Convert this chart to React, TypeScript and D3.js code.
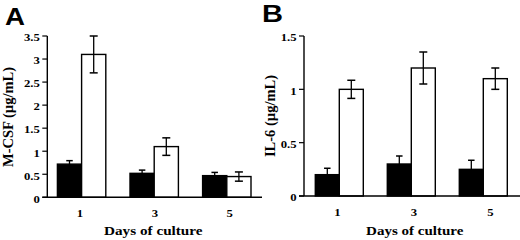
import React from "react";
import * as d3 from "d3";

// ---- data ----
const days = ["1", "3", "5"];
const series = ["control", "treated"];

// Panel A: M-CSF (µg/mL)
const mcsfControl = [0.72, 0.52, 0.47];
const mcsfControlErr = [0.075, 0.07, 0.07];
const mcsfTreated = [3.1, 1.1, 0.45];
const mcsfTreatedErr = [0.4, 0.19, 0.1];
const mcsfTicks = [0, 0.5, 1, 1.5, 2, 2.5, 3, 3.5];

// Panel B: IL-6 (µg/mL)
const il6Control = [0.2, 0.3, 0.25];
const il6ControlErr = [0.06, 0.075, 0.085];
const il6Treated = [1.0, 1.2, 1.1];
const il6TreatedErr = [0.085, 0.15, 0.1];
const il6Ticks = [0, 0.5, 1, 1.5];

const xTitle = "Days of culture";

type PanelProps = {
  letter: string;
  letterX: number;
  letterY: number;
  letterLen: number;
  yTitle: string;
  yTitleX: number;
  yTitleY: number;
  axisX: number;
  axisRight: number;
  yMax: number;
  yTop: number;
  yBottom: number;
  ticks: number[];
  bandRange: [number, number];
  labelRange: [number, number];
  control: number[];
  controlErr: number[];
  treated: number[];
  treatedErr: number[];
  xTitleX: number;
  xTitleLen: number;
};

const serif = "'Liberation Serif', 'Times New Roman', serif";
const sans = "'Liberation Sans', Arial, sans-serif";
const SX = 1.27;

function Panel(p: PanelProps) {
  const y = d3.scaleLinear().domain([0, p.yMax]).range([p.yBottom, p.yTop]);
  const x0 = d3.scaleBand<string>().domain(days).range(p.bandRange).padding(0);
  const x1 = d3
    .scaleBand<string>()
    .domain(series)
    .range([0, x0.bandwidth()])
    .paddingInner(0)
    .paddingOuter(0.5);
  const xl = d3.scalePoint<string>().domain(days).range(p.labelRange);
  const fmt = (v: number) => d3.format("~g")(v);
  const sw = 1.4;
  const tickLen = 5;

  const bars: { day: string; s: string; v: number; e: number }[] = [];
  days.forEach((d, i) => {
    bars.push({ day: d, s: "control", v: p.control[i], e: p.controlErr[i] });
    bars.push({ day: d, s: "treated", v: p.treated[i], e: p.treatedErr[i] });
  });

  return (
    <g>
      <text
        x={p.letterX}
        y={p.letterY}
        fontFamily={sans}
        fontWeight="bold"
        fontSize={23.5}
        textLength={p.letterLen}
        lengthAdjust="spacingAndGlyphs"
      >
        {p.letter}
      </text>
      {/* bars */}
      {bars.map((b, i) => {
        const bx = (x0(b.day) as number) + (x1(b.s) as number);
        const bw = x1.bandwidth();
        const top = y(b.v);
        const cx = bx + bw / 2;
        const capW = b.s === "control" ? 6.5 : 8;
        return (
          <g key={i}>
            <rect
              x={bx}
              y={top}
              width={bw}
              height={y(0) - top}
              fill={b.s === "control" ? "#000" : "#fff"}
              stroke="#000"
              strokeWidth={sw}
            />
            <line x1={cx} x2={cx} y1={y(b.v + b.e)} y2={y(b.v - b.e)} stroke={b.s === "control" ? "#000" : "#000"} strokeWidth={1.3} />
            <line x1={cx - capW / 2} x2={cx + capW / 2} y1={y(b.v + b.e)} y2={y(b.v + b.e)} stroke="#000" strokeWidth={1.5} />
            {b.s === "treated" && (
              <line x1={cx - capW / 2} x2={cx + capW / 2} y1={y(b.v - b.e)} y2={y(b.v - b.e)} stroke="#000" strokeWidth={1.5} />
            )}
          </g>
        );
      })}
      {/* y axis */}
      <line x1={p.axisX} x2={p.axisX} y1={y(p.yMax)} y2={y(0)} stroke="#000" strokeWidth={sw} />
      {p.ticks.map((t) => (
        <g key={t}>
          <line x1={p.axisX - tickLen} x2={p.axisX} y1={y(t)} y2={y(t)} stroke="#000" strokeWidth={1.2} />
          <text
            transform={`translate(${p.axisX - tickLen - 2.5},${y(t) + 5.3}) scale(${SX},1)`}
            textAnchor="end"
            fontFamily={serif}
            fontWeight="bold"
            fontSize={10}
          >
            {fmt(t)}
          </text>
        </g>
      ))}
      {/* x axis */}
      <line x1={p.axisX - tickLen} x2={p.axisRight} y1={y(0)} y2={y(0)} stroke="#000" strokeWidth={sw} />
      {days.map((d) => (
        <text
          key={d}
          transform={`translate(${xl(d)},${y(0) + 19.5}) scale(${SX},1)`}
          textAnchor="middle"
          fontFamily={serif}
          fontWeight="bold"
          fontSize={10}
        >
          {d}
        </text>
      ))}
      <text
        x={p.xTitleX}
        y={235.3}
        textAnchor="middle"
        fontFamily={serif}
        fontWeight="bold"
        fontSize={12}
        textLength={p.xTitleLen}
        lengthAdjust="spacingAndGlyphs"
      >
        {xTitle}
      </text>
      <text
        transform={`translate(${p.yTitleX},${p.yTitleY}) rotate(-90)`}
        textAnchor="middle"
        fontFamily={serif}
        fontWeight="bold"
        fontSize={14.5}
      >
        {p.yTitle}
      </text>
    </g>
  );
}

export default function App() {
  return (
    <svg
      width={520}
      height={240}
      style={{ position: "absolute", left: 0, top: 0, background: "#fff" }}
    >
      <rect width={520} height={240} fill="#fff" />
      <Panel
        letter="A"
        letterX={5}
        letterY={25}
        letterLen={20}
        yTitle="M-CSF (µg/mL)"
        yTitleX={13.3}
        yTitleY={117}
        axisX={47.3}
        axisRight={262}
        yMax={3.5}
        yTop={36}
        yBottom={197.3}
        ticks={mcsfTicks}
        bandRange={[45.3, 263.1]}
        labelRange={[80, 229.7]}
        control={mcsfControl}
        controlErr={mcsfControlErr}
        treated={mcsfTreated}
        treatedErr={mcsfTreatedErr}
        xTitleX={153.3}
        xTitleLen={98.5}
      />
      <Panel
        letter="B"
        letterX={262}
        letterY={21.7}
        letterLen={21}
        yTitle="IL-6 (µg/mL)"
        yTitleX={274.5}
        yTitleY={116}
        axisX={304}
        axisRight={520}
        yMax={1.5}
        yTop={36}
        yBottom={196}
        ticks={il6Ticks}
        bandRange={[303.3, 519.3]}
        labelRange={[337.5, 490.5]}
        control={il6Control}
        controlErr={il6ControlErr}
        treated={il6Treated}
        treatedErr={il6TreatedErr}
        xTitleX={414.7}
        xTitleLen={97.3}
      />
    </svg>
  );
}
